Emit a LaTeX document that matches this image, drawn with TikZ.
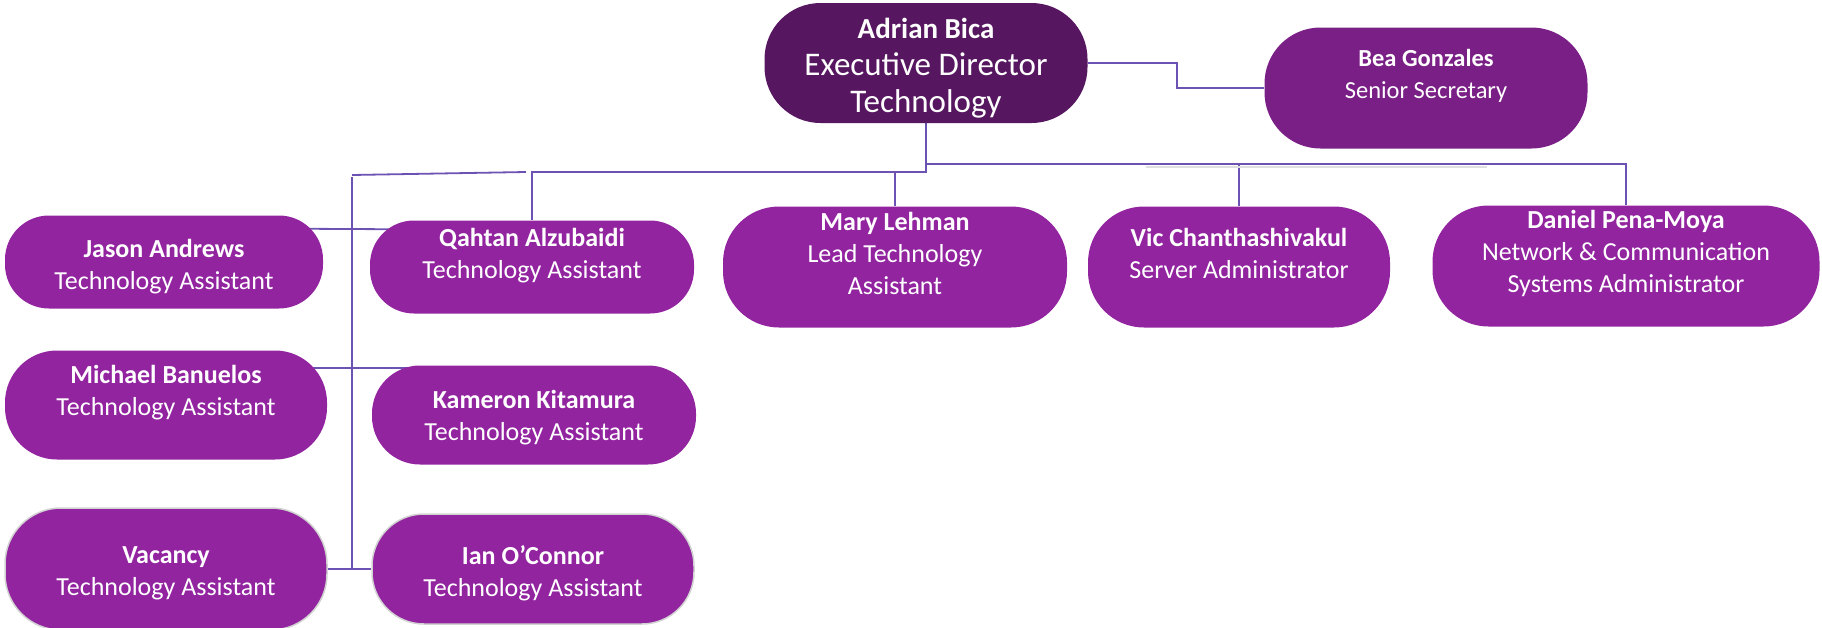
\documentclass[tikz,border=0pt]{standalone}
\usepackage{fontspec}
\setmainfont{Carlito}
\usetikzlibrary{positioning}
\usetikzlibrary{calc}
\definecolor{director}{RGB}{86,22,96}
\definecolor{secretary}{RGB}{122,31,134}
\definecolor{staff}{RGB}{146,36,160}
\definecolor{link}{RGB}{108,82,178}
\pgfdeclarelayer{background}
\pgfsetlayers{background,main}

\begin{document}
\begin{tikzpicture}[x=1pt, y=-1pt,
	box/.style={rounded corners=56pt, fill=staff, inner sep=0pt},
	txt/.style={text=white, align=center, font=\fontsize{26}{32}\selectfont},
	wire/.style={draw=link, line width=1.8pt}]
	\useasboundingbox (0,0) rectangle (1822,627);
	% boxes
	\node[box, fill=director, minimum width=323pt, minimum height=120pt] (adrian) at (926,63) {};
	\node[box, fill=secretary, minimum width=323pt, minimum height=121pt] (bea) at (1426,88) {};
	\node[box, rounded corners=44pt, minimum width=318pt, minimum height=93pt] (jason) at (164,262) {};
	\node[box, rounded corners=44pt, minimum width=324pt, minimum height=93pt] (qahtan) at (532,267) {};
	\node[box, minimum width=344pt, minimum height=121pt] (mary) at (895,267) {};
	\node[box, minimum width=302pt, minimum height=121pt] (vic) at (1239,267) {};
	\node[box, minimum width=387pt, minimum height=121pt] (daniel) at (1626,266) {};
	\node[box, rounded corners=52pt, minimum width=322pt, minimum height=109pt] (michael) at (166,405) {};
	\node[box, rounded corners=48pt, minimum width=324pt, minimum height=99pt] (kameron) at (534,415) {};
	\node[box, draw=gray!35, line width=1.5pt, minimum width=322pt, minimum height=122pt] (vacancy) at (166,569) {};
	\node[box, draw=gray!35, line width=1.5pt, rounded corners=52pt, minimum width=322pt, minimum height=110pt] (ian) at (533,569) {};
	% texts
	\node[txt, font=\fontsize{33}{37}\selectfont, yshift=-5pt] at (adrian) {{\fontsize{29}{37}\selectfont\textbf{Adrian Bica}}\\Executive Director\\Technology};
	\node[txt, font=\fontsize{24.5}{32}\selectfont, yshift=12pt] at (bea) {\textbf{Bea Gonzales}\\Senior Secretary};
	\node[txt, yshift=-5pt] at (jason) {\textbf{Jason Andrews}\\Technology Assistant};
	\node[txt, yshift=11pt] at (qahtan) {\textbf{Qahtan Alzubaidi}\\Technology Assistant};
	\node[txt, yshift=14pt] at (mary) {\textbf{Mary Lehman}\\Lead Technology\\Assistant};
	\node[txt, yshift=14pt] at (vic) {\textbf{Vic Chanthashivakul}\\Server Administrator};
	\node[txt, yshift=13pt] at (daniel) {\textbf{Daniel Pena-Moya}\\Network \& Communication\\Systems Administrator};
	\node[txt, yshift=12pt] at (michael) {\textbf{Michael Banuelos}\\Technology Assistant};
	\node[txt, yshift=-3pt] at (kameron) {\textbf{Kameron Kitamura}\\Technology Assistant};
	\node[txt, yshift=-4pt] at (vacancy) {\textbf{Vacancy}\\Technology Assistant};
	\node[txt, yshift=-4pt] at (ian) {\textbf{Ian O’Connor}\\Technology Assistant};
	% connectors
	\begin{pgfonlayer}{background}
		\coordinate (rbus) at (adrian.south |- 0,164);
		\coordinate (lbus) at (adrian.south |- 0,172);
		\coordinate (trunk) at (352,175);
		\draw[wire] (adrian.east) -- ++(89,0) |- (bea.west);
		\draw[wire] (adrian.south) -- (lbus) -- (lbus -| qahtan.north) -- (qahtan.north);
		\draw[wire] (rbus) -| (daniel.north);
		\draw[wire] (rbus -| vic.north) -- (vic.north);
		\draw[wire] (lbus -| mary.north) -- (mary.north);
		\draw[gray!25, line width=2pt] (1146,166.5) -- (1487,166.5);
		\draw[wire] (trunk) -- ($(lbus -| qahtan.north)+(-6,0)$);
		\draw[wire] ($(trunk)+(0,2)$) -- (trunk |- vacancy.east);
		\draw[wire] (jason.center |- 0,228) -- (qahtan.center |- 0,230);
		\draw[wire] (michael.center |- 0,368) -- (kameron.center |- 0,368);
		\draw[wire] (vacancy.east) -- (ian.west);
	\end{pgfonlayer}
\end{tikzpicture}
\end{document}
